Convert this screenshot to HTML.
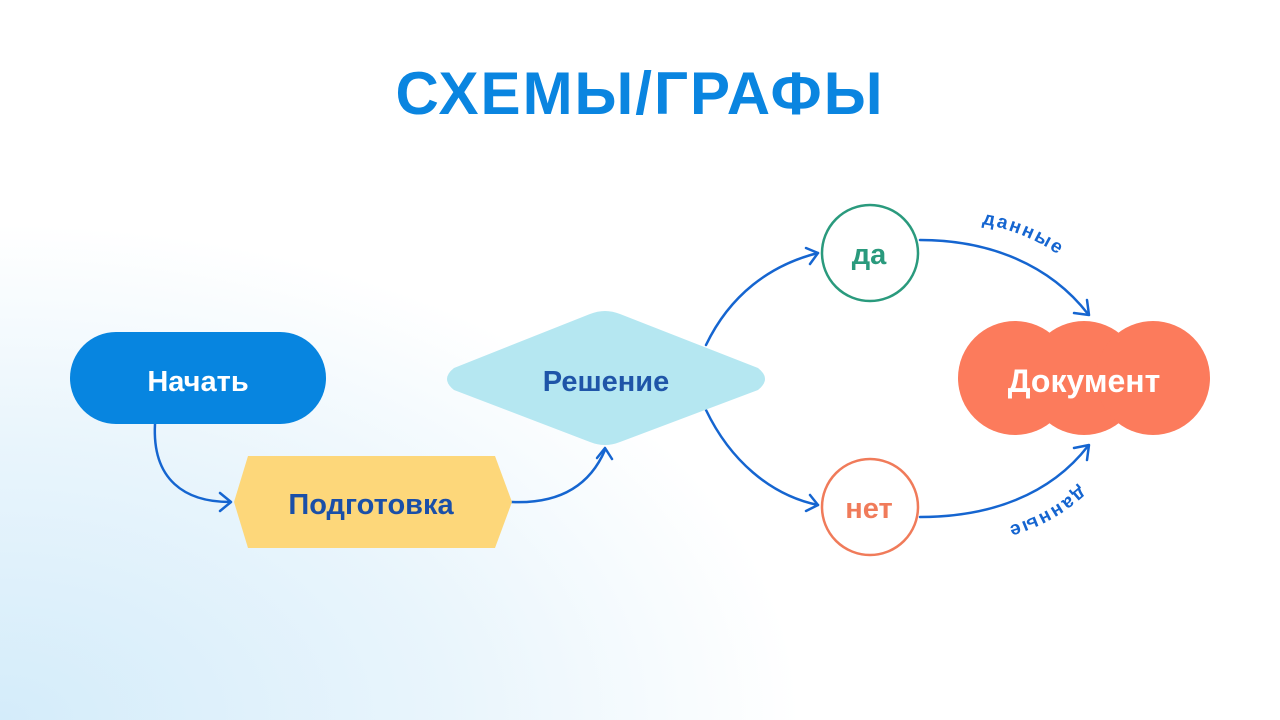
<!DOCTYPE html>
<html><head><meta charset="utf-8"><style>
html,body{margin:0;padding:0;width:1280px;height:720px;overflow:hidden;}
body{background:radial-gradient(ellipse 1000px 620px at 0% 100%, #d4ecfa 0%, #e9f5fc 45%, #ffffff 80%);}
svg{position:absolute;left:0;top:0;font-family:"Liberation Sans","DejaVu Sans",sans-serif;font-weight:bold;}
</style></head><body>
<svg width="1280" height="720" viewBox="0 0 1280 720">
<text x="640" y="114" text-anchor="middle" font-size="60" fill="#0a85e0" letter-spacing="2">СХЕМЫ/ГРАФЫ</text>

<g fill="none" stroke="#1565d0" stroke-width="2.5" stroke-linecap="round" stroke-linejoin="round">
<path d="M155 424 C152 480 185 502 230 502"/><path d="M220 493 L231 502 L220 511"/>
<path d="M512 502 C560 504 590 485 605 450"/><path d="M597 458 L605 448 L612 459"/>
<path d="M706 345 C730 295 770 265 818 253"/><path d="M806 248 L818 253 L810 264"/>
<path d="M706 410 C730 460 770 495 818 505"/><path d="M810 495 L818 505 L806 511"/>
<path d="M920 240 C990 240 1050 265 1088 314"/><path d="M1087 300 L1089 315 L1074 313"/>
<path d="M920 517 C990 517 1050 495 1088 446"/><path d="M1074 448 L1089 445 L1087 460"/>
</g>

<path id="p1" d="M982 224 C1020 230 1055 248 1085 276" fill="none"/>
<text font-size="19" fill="#1565d0" letter-spacing="2"><textPath href="#p1">данные</textPath></text>
<path id="p2" d="M1080 486 C1050 514 1015 528 970 534" fill="none"/>
<text font-size="19" fill="#1565d0" letter-spacing="2"><textPath href="#p2">данные</textPath></text>

<rect x="70" y="332" width="256" height="92" rx="46" fill="#0785e0"/>
<text x="198" y="391" text-anchor="middle" font-size="29" fill="#fff">Начать</text>

<polygon points="248,456 495,456 512,502 495,548 248,548 234,502" fill="#fdd77a"/>
<text x="371" y="514" text-anchor="middle" font-size="29" fill="#1a4fa8">Подготовка</text>

<path d="M590 314 Q605 308 620 314 L758 368 Q772 379 758 390 L620 442 Q605 448 590 442 L454 390 Q440 379 454 368 Z" fill="#b5e7f1"/>
<text x="606" y="391" text-anchor="middle" font-size="29" fill="#1f55a8">Решение</text>

<circle cx="870" cy="253" r="48" fill="#fff" stroke="#2a9a7d" stroke-width="2.5"/>
<text x="869" y="264" text-anchor="middle" font-size="29" fill="#2a9a7d">да</text>
<circle cx="870" cy="507" r="48" fill="#fff" stroke="#f07b5a" stroke-width="2.5"/>
<text x="869" y="518" text-anchor="middle" font-size="29" fill="#f07b5a">нет</text>

<g fill="#fc7b5c">
<circle cx="1015" cy="378" r="57"/><circle cx="1084" cy="378" r="57"/><circle cx="1153" cy="378" r="57"/>
</g>
<text x="1084" y="392" text-anchor="middle" font-size="32" fill="#fff">Документ</text>
</svg>
</body></html>
